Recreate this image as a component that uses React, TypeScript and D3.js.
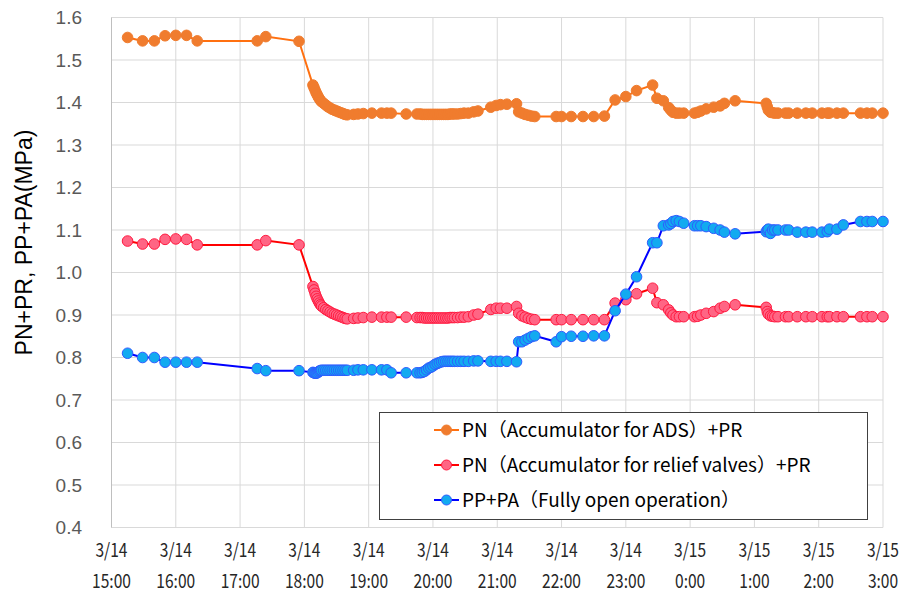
import React, { useEffect, useRef } from 'react';
import * as d3 from 'd3';

// sample times (shared by all three series)
const times = [
  '3/14 15:15', '3/14 15:29', '3/14 15:40', '3/14 15:50', '3/14 16:00', '3/14 16:10', '3/14 16:20',
  '3/14 17:16', '3/14 17:24', '3/14 17:55',
  '3/14 18:08', '3/14 18:09', '3/14 18:10', '3/14 18:11', '3/14 18:12', '3/14 18:13', '3/14 18:14',
  '3/14 18:15', '3/14 18:16', '3/14 18:18', '3/14 18:20', '3/14 18:22', '3/14 18:24', '3/14 18:26',
  '3/14 18:28', '3/14 18:30', '3/14 18:32', '3/14 18:34', '3/14 18:36', '3/14 18:38', '3/14 18:40',
  '3/14 18:46', '3/14 18:50', '3/14 18:55', '3/14 19:03', '3/14 19:12', '3/14 19:17', '3/14 19:21',
  '3/14 19:35', '3/14 19:45', '3/14 19:48', '3/14 19:50', '3/14 19:52', '3/14 19:54', '3/14 19:56',
  '3/14 19:58', '3/14 20:00', '3/14 20:02', '3/14 20:04', '3/14 20:06', '3/14 20:08', '3/14 20:10',
  '3/14 20:12', '3/14 20:14', '3/14 20:16', '3/14 20:18', '3/14 20:20', '3/14 20:23', '3/14 20:26',
  '3/14 20:29', '3/14 20:33', '3/14 20:38', '3/14 20:42', '3/14 20:54', '3/14 20:59', '3/14 21:03',
  '3/14 21:09', '3/14 21:18', '3/14 21:20', '3/14 21:23', '3/14 21:26', '3/14 21:29', '3/14 21:32',
  '3/14 21:35', '3/14 21:55', '3/14 22:00', '3/14 22:09', '3/14 22:20', '3/14 22:30', '3/14 22:40',
  '3/14 22:50', '3/14 23:00', '3/14 23:10', '3/14 23:25', '3/14 23:29', '3/14 23:35', '3/14 23:40',
  '3/14 23:42', '3/14 23:44', '3/14 23:47', '3/14 23:50', '3/14 23:54',
  '3/15 0:04', '3/15 0:07', '3/15 0:10', '3/15 0:15', '3/15 0:22', '3/15 0:28', '3/15 0:32',
  '3/15 0:42', '3/15 1:11', '3/15 1:12', '3/15 1:13', '3/15 1:15', '3/15 1:17', '3/15 1:19',
  '3/15 1:22', '3/15 1:29', '3/15 1:32', '3/15 1:40', '3/15 1:48', '3/15 1:54', '3/15 2:03',
  '3/15 2:08', '3/15 2:10', '3/15 2:17', '3/15 2:23', '3/15 2:39', '3/15 2:45', '3/15 2:50',
  '3/15 3:00',
];

// PN (Accumulator for ADS) + PR
const pnAds = [
  1.553, 1.545, 1.545, 1.557, 1.558, 1.558, 1.545,
  1.545, 1.555, 1.544,
  1.441, 1.435, 1.429, 1.423, 1.418, 1.413, 1.409,
  1.405, 1.402, 1.398, 1.394, 1.390, 1.387, 1.384,
  1.382, 1.380, 1.378, 1.376, 1.374, 1.372, 1.371,
  1.372, 1.373, 1.374, 1.375, 1.375, 1.375, 1.375,
  1.373, 1.373, 1.373, 1.372, 1.372, 1.372, 1.372,
  1.372, 1.372, 1.372, 1.372, 1.372, 1.372, 1.372,
  1.372, 1.372, 1.373, 1.373, 1.373, 1.373, 1.374,
  1.375, 1.375, 1.378, 1.380, 1.389, 1.393, 1.395,
  1.396, 1.397, 1.378, 1.375, 1.372, 1.370, 1.368,
  1.367, 1.367, 1.367, 1.367, 1.367, 1.367, 1.368,
  1.406, 1.414, 1.428, 1.441, 1.410, 1.404, 1.388,
  1.382, 1.377, 1.375, 1.375, 1.375,
  1.375, 1.377, 1.380, 1.385, 1.389, 1.392, 1.398,
  1.404, 1.398, 1.390, 1.382, 1.377, 1.376, 1.375,
  1.375, 1.375, 1.375, 1.375, 1.375, 1.375, 1.375,
  1.375, 1.375, 1.375, 1.375, 1.375, 1.375, 1.375,
  1.375,
];

// PN (Accumulator for relief valves) + PR
const pnRelief = [
  1.074, 1.067, 1.067, 1.078, 1.079, 1.078, 1.065,
  1.065, 1.075, 1.065,
  0.967, 0.959, 0.951, 0.944, 0.938, 0.933, 0.928,
  0.924, 0.921, 0.917, 0.913, 0.910, 0.907, 0.904,
  0.902, 0.900, 0.898, 0.896, 0.894, 0.892, 0.891,
  0.892, 0.893, 0.894, 0.895, 0.895, 0.895, 0.895,
  0.895, 0.894, 0.894, 0.894, 0.893, 0.893, 0.893,
  0.893, 0.893, 0.893, 0.893, 0.893, 0.893, 0.893,
  0.893, 0.893, 0.894, 0.894, 0.894, 0.894, 0.895,
  0.895, 0.896, 0.900, 0.902, 0.913, 0.916, 0.916,
  0.916, 0.920, 0.904, 0.898, 0.895, 0.892, 0.890,
  0.889, 0.889, 0.889, 0.889, 0.889, 0.889, 0.889,
  0.928, 0.936, 0.950, 0.963, 0.929, 0.924, 0.912,
  0.905, 0.900, 0.896, 0.896, 0.896,
  0.896, 0.897, 0.900, 0.904, 0.908, 0.916, 0.920,
  0.924, 0.918, 0.908, 0.902, 0.898, 0.897, 0.896,
  0.896, 0.896, 0.896, 0.896, 0.896, 0.896, 0.896,
  0.896, 0.896, 0.896, 0.896, 0.896, 0.896, 0.896,
  0.896,
];

// PP + PA (Fully open operation)
const ppPa = [
  0.810, 0.800, 0.800, 0.789, 0.789, 0.789, 0.789,
  0.774, 0.769, 0.769,
  0.765, 0.764, 0.763, 0.763, 0.764, 0.766, 0.768,
  0.769, 0.770, 0.770, 0.770, 0.770, 0.770, 0.770,
  0.770, 0.770, 0.770, 0.770, 0.770, 0.770, 0.770,
  0.770, 0.771, 0.771, 0.771, 0.771, 0.771, 0.764,
  0.764, 0.764, 0.764, 0.765, 0.767, 0.771, 0.775,
  0.777, 0.780, 0.784, 0.786, 0.788, 0.790, 0.791,
  0.791, 0.791, 0.791, 0.791, 0.791, 0.791, 0.791,
  0.791, 0.791, 0.792, 0.792, 0.791, 0.791, 0.791,
  0.791, 0.790, 0.837, 0.837, 0.841, 0.845, 0.849,
  0.851, 0.837, 0.849, 0.850, 0.850, 0.851, 0.851,
  0.910, 0.949, 0.990, 1.070, 1.070, 1.110, 1.112,
  1.115, 1.120, 1.122, 1.120, 1.116,
  1.110, 1.110, 1.110, 1.108, 1.104, 1.100, 1.095,
  1.091, 1.096, 1.100, 1.102, 1.092, 1.100, 1.100,
  1.100, 1.100, 1.100, 1.095, 1.095, 1.095, 1.095,
  1.096, 1.102, 1.102, 1.112, 1.120, 1.120, 1.120,
  1.120,
];

const seriesNames = [
  'PN（Accumulator for ADS）+PR',
  'PN（Accumulator for relief valves）+PR',
  'PP+PA（Fully open operation）',
];
const yTicks = [0.4, 0.5, 0.6, 0.7, 0.8, 0.9, 1.0, 1.1, 1.2, 1.3, 1.4, 1.5, 1.6];
const xStart = '3/14 15:00';
const xEnd = '3/15 3:00';

const App: React.FC = () => {
  const svgRef = useRef<SVGSVGElement>(null);

  useEffect(() => {
    document.body.style.margin = '0';
    d3.select(svgRef.current).selectAll('*').remove();

    const width = 909;
    const height = 599;
    const left = 111.5, right = 883, top = 17.5, bottom = 527.5;

    const parse = d3.timeParse('%m/%d %H:%M');
    const svg = d3.select(svgRef.current)
      .attr('width', width)
      .attr('height', height)
      .style('background', '#fff');

    const x = d3.scaleTime()
      .domain([parse(xStart)!, parse(xEnd)!])
      .range([left, right]);
    const y = d3.scaleLinear().domain([0.4, 1.6]).range([bottom, top]);

    // gridlines
    svg.append('g').selectAll('line')
      .data(yTicks)
      .enter().append('line')
      .attr('x1', left).attr('x2', right)
      .attr('y1', d => y(d)).attr('y2', d => y(d))
      .attr('stroke', '#d9d9d9').attr('stroke-width', 1);

    const hours = x.ticks(d3.timeHour.every(1)!);
    svg.append('g').selectAll('line')
      .data(hours)
      .enter().append('line')
      .attr('x1', d => x(d)).attr('x2', d => x(d))
      .attr('y1', top).attr('y2', bottom)
      .attr('stroke', '#d9d9d9').attr('stroke-width', 1);

    // left axis line
    svg.append('line')
      .attr('x1', left).attr('x2', left).attr('y1', top).attr('y2', bottom)
      .attr('stroke', '#bfbfbf').attr('stroke-width', 1);

    // y tick labels
    svg.append('g').selectAll('text')
      .data(yTicks)
      .enter().append('text')
      .attr('x', 82)
      .attr('y', d => y(d))
      .attr('dy', '0.36em')
      .attr('text-anchor', 'end')
      .style('font-family', 'Liberation Sans, Arial, sans-serif')
      .style('font-size', '19px')
      .style('fill', '#595959')
      .text(d => d3.format('.1f')(d));

    // x tick labels (two lines, condensed)
    const fmtDate = d3.timeFormat('%-m/%-d');
    const fmtTime = d3.timeFormat('%-H:%M');
    const xl = svg.append('g').selectAll('g')
      .data(hours)
      .enter().append('g')
      .attr('transform', d => `translate(${x(d)},0) scale(0.82,1)`);
    xl.append('text')
      .attr('y', 557)
      .attr('text-anchor', 'middle')
      .style('font-family', 'Noto Sans CJK JP, sans-serif')
      .style('font-size', '19px')
      .style('fill', '#262626')
      .text(d => fmtDate(d));
    xl.append('text')
      .attr('y', 588)
      .attr('text-anchor', 'middle')
      .style('font-family', 'Noto Sans CJK JP, sans-serif')
      .style('font-size', '19px')
      .style('fill', '#262626')
      .text(d => fmtTime(d));

    // y axis title
    svg.append('text')
      .attr('transform', `translate(32,${(top + bottom) / 2 - 30}) rotate(-90)`)
      .attr('text-anchor', 'middle')
      .style('font-family', 'Liberation Sans, Arial, sans-serif')
      .style('font-size', '23px')
      .style('fill', '#000')
      .text('PN+PR, PP+PA(MPa)');

    const styles = [
      { line: '#ff7010', fill: '#f07c2e', stroke: '#f07c2e' },
      { line: '#ff0000', fill: '#ff6584', stroke: '#ff1a40' },
      { line: '#0000ff', fill: '#12aaf0', stroke: '#2f5bff' },
    ];
    const allSeries = [pnAds, pnRelief, ppPa];
    const dates = times.map(t => parse(t)!);

    allSeries.forEach((vals, i) => {
      const pts = vals.map((v, j) => ({ t: dates[j], v }));
      const line = d3.line<{ t: Date; v: number }>()
        .x(d => x(d.t))
        .y(d => y(d.v));
      svg.append('path')
        .datum(pts)
        .attr('d', line)
        .attr('fill', 'none')
        .attr('stroke', styles[i].line)
        .attr('stroke-width', 2);
      svg.append('g').selectAll('circle')
        .data(pts)
        .enter().append('circle')
        .attr('cx', d => x(d.t))
        .attr('cy', d => y(d.v))
        .attr('r', 5.3)
        .attr('fill', styles[i].fill)
        .attr('stroke', styles[i].stroke)
        .attr('stroke-width', 1);
    });

    // legend
    const lg = svg.append('g');
    lg.append('rect')
      .attr('x', 379.5).attr('y', 412.5)
      .attr('width', 488).attr('height', 107)
      .attr('fill', '#fff')
      .attr('stroke', '#404040').attr('stroke-width', 1);
    seriesNames.forEach((name, i) => {
      const cy = 430 + i * 35;
      lg.append('line')
        .attr('x1', 434).attr('x2', 459).attr('y1', cy).attr('y2', cy)
        .attr('stroke', styles[i].line).attr('stroke-width', 2);
      lg.append('circle')
        .attr('cx', 446.5).attr('cy', cy).attr('r', 5)
        .attr('fill', styles[i].fill)
        .attr('stroke', styles[i].stroke).attr('stroke-width', 1);
      lg.append('text')
        .attr('x', 462).attr('y', cy).attr('dy', '0.35em')
        .style('font-family', 'Noto Sans CJK JP, sans-serif')
        .style('font-size', '19px')
        .style('fill', '#000')
        .text(name);
    });
  }, []);

  return (
    <div style={{ position: 'absolute', left: 0, top: 0 }}>
      <svg ref={svgRef}></svg>
    </div>
  );
};

export default App;
